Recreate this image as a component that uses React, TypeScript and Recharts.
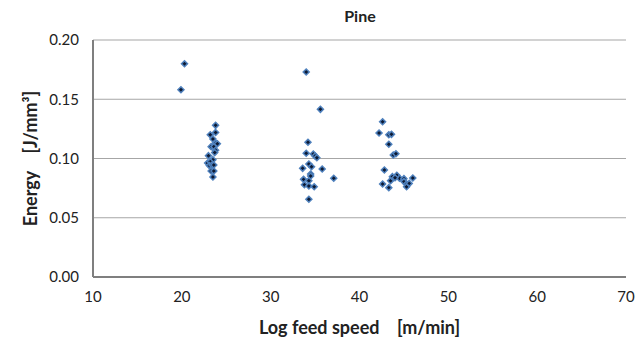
import { ScatterChart, Scatter, XAxis, YAxis, CartesianGrid, Label } from "recharts";

// log feed speed [m/min] and energy [J/mm3]
const feedSpeed = [
  20.3, 19.9,
  23.8, 23.8, 23.2, 23.5, 23.8, 24.0, 23.3, 23.6, 23.8, 23.7,
  23.0, 23.5, 22.9, 23.2, 23.1, 23.4, 23.6, 23.3, 23.6, 23.5,
  34.0, 35.6, 34.2, 34.0, 34.8, 35.0, 35.2, 34.3, 34.6, 33.6,
  35.8, 34.5, 34.5, 33.7, 34.3, 37.1, 33.8, 34.3, 34.9, 34.3,
  42.6, 42.2, 43.3, 43.6, 43.3, 43.8, 44.1, 42.8, 42.6, 43.3,
  43.5, 43.7, 44.2, 44.5, 45.0, 45.0, 45.3, 45.3, 45.6, 46.0, 44.0,
];
const energy = [
  0.180, 0.158,
  0.128, 0.122, 0.120, 0.1165, 0.113, 0.1125, 0.110, 0.110, 0.107, 0.105,
  0.1024, 0.099, 0.0962, 0.0973, 0.094, 0.0945, 0.0945, 0.0895, 0.0895, 0.0844,
  0.173, 0.1415, 0.1137, 0.1044, 0.1038, 0.1021, 0.1007, 0.0954, 0.0931, 0.0917,
  0.0911, 0.0869, 0.0852, 0.0824, 0.0813, 0.0833, 0.0779, 0.0768, 0.0762, 0.0656,
  0.131, 0.1215, 0.120, 0.1204, 0.112, 0.103, 0.104, 0.0903, 0.0785, 0.0754,
  0.0813, 0.0847, 0.0858, 0.0833, 0.083, 0.0805, 0.0785, 0.0762, 0.079, 0.0835, 0.0838,
];
const xTicks = [10, 20, 30, 40, 50, 60, 70];
const yTicks = [0, 0.05, 0.1, 0.15, 0.2];

const points = feedSpeed.map((x, i) => ({ x, y: energy[i] }));

const font = "Lato, 'Liberation Sans', sans-serif";
const gap = "\u00a0\u00a0\u00a0\u00a0";

function Diamond(props: any) {
  const { cx, cy } = props;
  const r = 3;
  return (
    <path
      d={`M${cx},${cy - r} L${cx + r},${cy} L${cx},${cy + r} L${cx - r},${cy} Z`}
      fill="#0d1a33"
      stroke="#4f81bd"
      strokeWidth={1.5}
    />
  );
}

export default function App() {
  return (
    <div style={{ position: "absolute", left: 0, top: 0, background: "white" }}>
      <ScatterChart
        width={644}
        height={337}
        margin={{ top: 40, right: 18, bottom: 0, left: 0 }}
        style={{ fontFamily: font }}
      >
        <text x={360} y={22} textAnchor="middle" fontSize={16} fontWeight="bold" fill="#222">
          Pine
        </text>
        <CartesianGrid vertical={false} stroke="#a6a6a6" strokeWidth={1.2} />
        <XAxis
          type="number"
          dataKey="x"
          domain={[10, 70]}
          ticks={xTicks}
          tickLine={false}
          tickMargin={8}
          axisLine={{ stroke: "#7f7f7f", strokeWidth: 2 }}
          tick={{ fill: "#222", fontSize: 15 }}
          height={60}
        >
          <Label
            value={`Log feed speed${gap}[m/min]`}
            position="insideBottom"
            offset={3}
            style={{ fontWeight: "bold", fontSize: 18, fill: "#222" }}
          />
        </XAxis>
        <YAxis
          type="number"
          dataKey="y"
          domain={[0, 0.2]}
          ticks={yTicks}
          tickLine={false}
          tickMargin={8}
          tickFormatter={(v: number) => v.toFixed(2)}
          axisLine={{ stroke: "#7f7f7f", strokeWidth: 2 }}
          tick={{ fill: "#222", fontSize: 15 }}
          width={93}
        >
          <Label
            value={`Energy${gap}[J/mm³]`}
            angle={-90}
            position="insideLeft"
            offset={31}
            style={{ fontWeight: "bold", fontSize: 18, fill: "#222", textAnchor: "middle" }}
          />
        </YAxis>
        <Scatter data={points} shape={Diamond} isAnimationActive={false} />
      </ScatterChart>
    </div>
  );
}
